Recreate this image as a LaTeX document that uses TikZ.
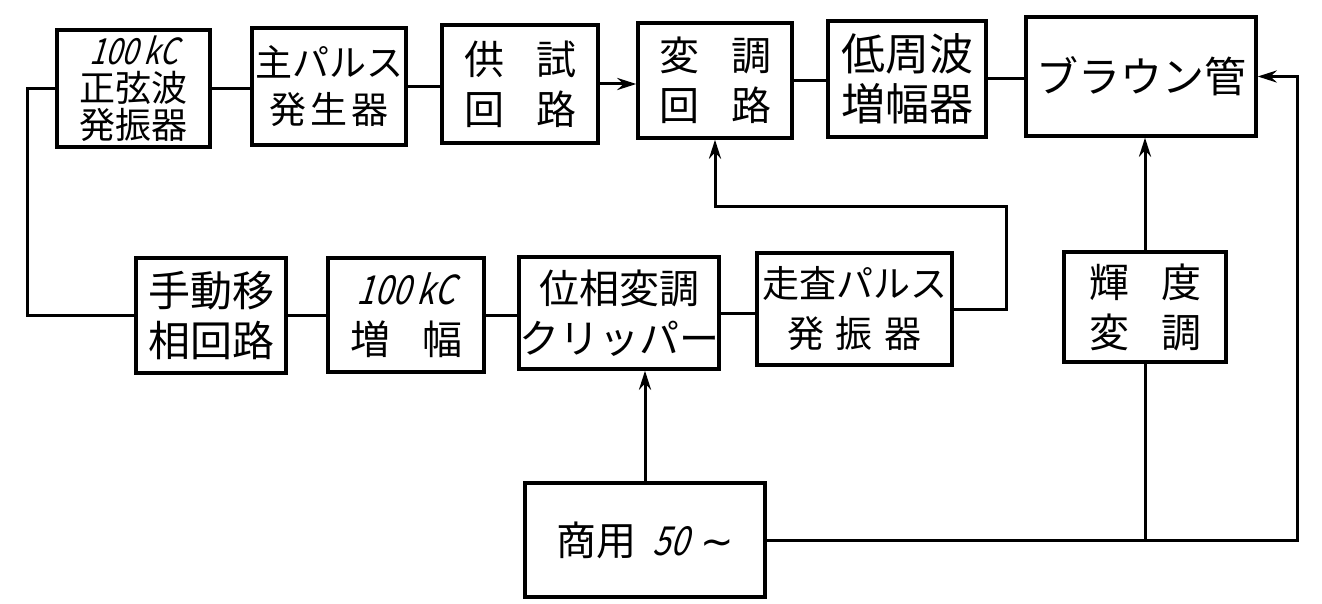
\documentclass[tikz,border=0pt]{standalone}
\usepackage{fontspec}
\setmainfont{Noto Sans CJK JP}
\newfontfamily\numit{Noto Sans CJK JP}[FakeSlant=0.3,FakeStretch=0.8]
\newfontfamily\symf{DejaVu Sans}
\usetikzlibrary{arrows.meta}
\begin{document}
\begin{tikzpicture}[x=0.5pt,y=-0.5pt]
\tikzset{
  blk/.style={draw, line width=1.7pt, inner sep=0pt, align=center, font=\fontsize{20}{25}\selectfont},
  wire/.style={line width=1.5pt},
  arr/.style={line width=1.5pt, -{Stealth[length=9.5pt,width=6pt]}},
}
\fill[white] (0,0) rectangle (1322,604);
\useasboundingbox (0,0) rectangle (1322,604);
% top row
\node[blk, minimum width=76.5pt, minimum height=58.5pt, font=\fontsize{18}{18.5}\selectfont] (A) at (133.5,88.5) {{\numit 100\,kC}\\正弦波\\発振器};
\node[blk, minimum width=77pt, minimum height=58.5pt, font=\fontsize{18.5}{23.5}\selectfont] (B) at (329,86.5) {主パルス\\発\hspace{0.1em}生\hspace{0.1em}器};
\node[blk, minimum width=78pt, minimum height=59pt] (C) at (520,84) {供\hspace{0.8em}試\\回\hspace{0.8em}路};
\node[blk, minimum width=77pt, minimum height=57.5pt] (D) at (715,80.5) {変\hspace{0.8em}調\\回\hspace{0.8em}路};
\node[blk, minimum width=79pt, minimum height=58pt, font=\fontsize{22}{25}\selectfont] (E) at (907,79) {低周波\\増幅器};
\node[blk, minimum width=115pt, minimum height=59.5pt, font=\fontsize{21}{25}\selectfont] (F) at (1141,76.5) {ブラウン管};
% bottom row
\node[blk, minimum width=75pt, minimum height=57.5pt, font=\fontsize{21}{25}\selectfont] (G) at (211,315.5) {手動移\\相回路};
\node[blk, minimum width=78pt, minimum height=57pt] (H) at (406,315) {{\numit 100\,kC}\\増\hspace{0.8em}幅};
\node[blk, minimum width=97pt, minimum height=56pt] (I) at (619,313) {位相変調\\クリッパー};
\node[blk, minimum width=97.5pt, minimum height=56pt, font=\fontsize{18.5}{25}\selectfont] (J) at (854.5,309) {走査パルス\\発\hspace{0.3em}振\hspace{0.3em}器};
\node[blk, minimum width=81pt, minimum height=55pt] (K) at (1145,307) {輝\hspace{0.8em}度\\変\hspace{0.8em}調};
\node[blk, minimum width=120pt, minimum height=57pt] (L) at (645,540) {商用\hspace{0.4em}{\numit 50}\hspace{0.3em}{\symf\fontsize{20}{25}\selectfont ∼}};
% coordinates
\coordinate (lft) at (27,200);
\coordinate (jr) at (1006,207);
\coordinate (rr) at (1297,300);
% connectors
\draw[wire] (A.west) -| (lft) |- (G.west);
\draw[wire] (A.east) -- (A.east -| B.west);
\draw[wire] (B.east) -- (B.east -| C.west);
\draw[arr] (C.east) -- (C.east -| D.west);
\draw[wire] (D.east) -- (D.east -| E.west);
\draw[wire] (E.east) -- (E.east -| F.west);
\draw[wire] (G.east) -- (G.east -| H.west);
\draw[wire] (H.east) -- (H.east -| I.west);
\draw[wire] (I.east) -- (I.east -| J.west);
\draw[arr] (J.east) -| (jr) -| (D.south);
\draw[arr] (K.north) -- (K.north |- F.south);
\draw[wire] (K.south) -- (K.south |- L.east);
\draw[arr] (L.north) -- (L.north |- I.south);
\draw[arr] (L.east) -| (rr) |- (F.east);
\end{tikzpicture}
\end{document}
